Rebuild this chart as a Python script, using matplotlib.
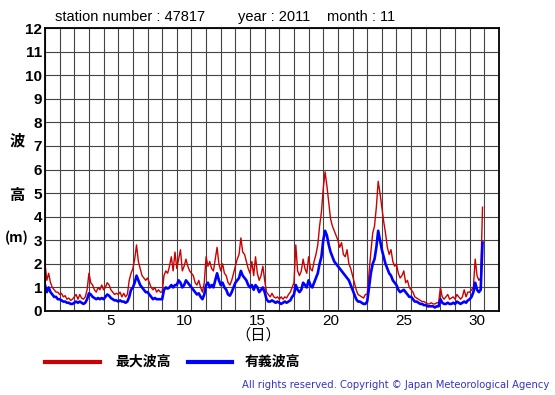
import numpy as np
import matplotlib.pyplot as plt

# 3-hourly readings, Nov 2011, station 47817 (8 values per day)
max_wave = [
    2.0, 1.3, 1.6, 1.2, 1.0, 0.9, 0.8, 0.8,
    0.7, 0.75, 0.6, 0.65, 0.5, 0.55, 0.45, 0.5,
    0.6, 0.7, 0.5, 0.7, 0.55, 0.5, 0.6, 0.9,
    1.6, 1.2, 1.1, 0.9, 0.8, 1.0, 0.9, 1.1,
    0.9, 1.0, 1.2, 1.1, 0.9, 0.8, 0.7, 0.75,
    0.7, 0.8, 0.6, 0.75, 0.6, 0.7, 1.3, 1.6,
    1.8, 2.2, 2.8, 2.1, 1.8, 1.5, 1.4, 1.3,
    1.4, 1.2, 1.0, 0.9, 1.0, 0.8, 0.9, 0.8,
    0.8, 1.5, 1.7, 1.6, 1.9, 2.3, 1.7, 2.5,
    1.8, 2.2, 2.6, 1.7, 1.9, 2.2, 1.9, 1.7,
    1.6, 1.5, 1.2, 1.1, 1.3, 1.0, 0.8, 1.2,
    2.3, 1.9, 2.1, 1.8, 1.7, 2.2, 2.7, 2.0,
    1.7, 2.0, 1.6, 1.5, 1.2, 1.1, 1.3, 1.6,
    1.9, 2.2, 2.4, 3.1, 2.5, 2.4, 2.1, 1.8,
    1.6, 2.1, 1.5, 2.3, 1.6, 1.3, 1.5, 1.9,
    1.3, 0.8, 0.7, 0.6, 0.75, 0.6, 0.55, 0.6,
    0.5, 0.6, 0.5, 0.6, 0.55, 0.7, 0.8, 1.0,
    1.2, 2.8, 1.7, 1.5, 1.7, 2.2, 1.8, 1.6,
    2.3, 1.8, 1.7, 2.1, 2.4, 2.8, 3.6, 4.2,
    5.2, 5.9, 5.3, 4.6, 3.9, 3.6, 3.4, 3.2,
    3.0, 2.7, 2.9, 2.4, 2.3, 2.6, 2.0, 1.8,
    1.5, 1.2, 0.9, 0.7, 0.65, 0.6, 0.55, 0.7,
    0.7, 1.6, 2.5, 3.3, 3.6, 4.4, 5.5, 5.0,
    4.4, 3.8, 3.3, 2.7, 2.4, 2.6, 2.1, 1.9,
    2.0, 1.6, 1.4, 1.5, 1.7, 1.2, 1.3, 1.0,
    0.9, 0.8, 0.6, 0.55, 0.5, 0.45, 0.4, 0.4,
    0.35, 0.3, 0.3, 0.35, 0.3, 0.3, 0.35, 0.35,
    1.0, 0.6, 0.5, 0.6, 0.7, 0.5, 0.55, 0.6,
    0.5, 0.7, 0.6, 0.5, 0.6, 0.9, 0.6, 0.8,
    0.8, 0.9, 1.0, 2.2, 1.5, 1.3, 1.4, 4.4,
]
sig_wave = [
    1.1, 0.8, 1.0, 0.8, 0.7, 0.6, 0.6, 0.5,
    0.5, 0.45, 0.4, 0.4, 0.35, 0.35, 0.3, 0.3,
    0.35, 0.4, 0.35, 0.4, 0.35, 0.3, 0.35, 0.5,
    0.75, 0.7, 0.6, 0.55, 0.5, 0.55, 0.5, 0.55,
    0.5, 0.6, 0.7, 0.65, 0.55, 0.5, 0.45, 0.45,
    0.4, 0.45, 0.4, 0.4, 0.35, 0.4, 0.6, 0.9,
    1.0, 1.2, 1.5, 1.3, 1.1, 1.0, 0.9, 0.8,
    0.8, 0.7, 0.6, 0.5, 0.55, 0.5, 0.5, 0.5,
    0.5, 0.9, 1.0, 0.95, 1.0, 1.1, 1.0, 1.1,
    1.1, 1.3, 1.2, 1.0, 1.1, 1.3, 1.2, 1.1,
    1.0, 0.9, 0.8, 0.7, 0.75, 0.6, 0.5, 0.7,
    1.1, 1.2, 1.0, 1.1, 1.0, 1.3, 1.6, 1.3,
    1.1, 1.2, 1.0, 0.9, 0.7, 0.65, 0.8, 1.0,
    1.2, 1.3, 1.4, 1.7, 1.5, 1.4, 1.3, 1.1,
    1.0, 1.1, 0.9, 1.1, 1.0, 0.8, 0.9, 1.0,
    0.8, 0.5, 0.4, 0.4, 0.45, 0.4, 0.35, 0.4,
    0.35, 0.3, 0.35, 0.4, 0.35, 0.4, 0.45, 0.6,
    0.7, 1.1, 0.9, 0.8, 0.9, 1.2, 1.1, 1.0,
    1.3, 1.1, 1.0, 1.2, 1.4, 1.6, 2.0, 2.3,
    3.0, 3.4, 3.2, 2.8, 2.5, 2.3, 2.1, 2.0,
    1.9, 1.8, 1.7, 1.6, 1.5, 1.4, 1.3, 1.1,
    0.9, 0.7, 0.5, 0.4, 0.4, 0.35, 0.3, 0.3,
    0.4, 1.0, 1.6, 2.0, 2.2, 2.7, 3.4, 3.0,
    2.6, 2.3, 2.0, 1.8, 1.6, 1.5, 1.3, 1.2,
    1.1, 0.9, 0.8, 0.85, 0.9, 0.8, 0.7, 0.6,
    0.6, 0.5, 0.4, 0.4, 0.35, 0.3, 0.3, 0.25,
    0.25, 0.2, 0.2, 0.2, 0.2, 0.15, 0.2, 0.2,
    0.5, 0.35, 0.3, 0.3, 0.35, 0.3, 0.3, 0.35,
    0.3, 0.4, 0.35, 0.3, 0.35, 0.4, 0.35, 0.45,
    0.5, 0.6, 0.8, 1.2, 0.9, 0.8, 0.9, 2.9,
]
day_labels = [5, 10, 15, 20, 25, 30]

station = "47817"
year = "2011"
month = "11"

t = 1 + np.arange(len(max_wave)) / 8.0

cjk = ['Noto Sans CJK JP', 'DejaVu Sans']
plt.rcParams['font.family'] = ['Liberation Sans', 'DejaVu Sans']

fig = plt.figure(figsize=(5.55, 3.95), dpi=100)
ax = fig.add_axes([45 / 555, 1 - 311 / 395, 454 / 555, 283 / 395])

ax.plot(t, max_wave, color='#cc0000', linewidth=1.0)
ax.plot(t, sig_wave, color='#0000ff', linewidth=1.9)

ax.set_xlim(1, 32)
ax.set_ylim(0, 12)
ax.set_xticks(np.arange(1, 33), minor=True)
ax.set_xticks([d + 0.5 for d in day_labels])
ax.set_xticklabels([str(d) for d in day_labels], fontsize=11)
ax.set_yticks(np.arange(0, 13))
ax.set_yticklabels([str(v) for v in range(13)], fontsize=11, fontweight='bold')
ax.tick_params(axis='both', which='both', length=0, pad=2)
ax.grid(True, which='minor', axis='x', color='#444444', linewidth=0.8)
ax.grid(True, which='major', axis='y', color='#444444', linewidth=0.8)
for s in ax.spines.values():
    s.set_linewidth(1.3)

# header
fig.text(55 / 555, 1 - 17 / 395, f"station number : {station}", fontsize=10.5, va='center')
fig.text(238 / 555, 1 - 17 / 395, f"year : {year}", fontsize=10.5, va='center')
fig.text(327 / 555, 1 - 17 / 395, f"month : {month}", fontsize=10.5, va='center')

# y label
fig.text(17 / 555, 1 - 140 / 395, "波", family=cjk, fontsize=11, fontweight='bold', ha='center', va='center')
fig.text(17 / 555, 1 - 195 / 395, "高", family=cjk, fontsize=11, fontweight='bold', ha='center', va='center')
fig.text(17 / 555, 1 - 238 / 395, "(m)", family=cjk, fontsize=10, fontweight='bold', ha='center', va='center')

# x label
fig.text(258 / 555, 1 - 335 / 395, "（日）", family=cjk, fontsize=11, ha='center', va='center')

# legend
fig.add_artist(plt.Line2D([45 / 555, 100 / 555], [1 - 362 / 395] * 2, color='#cc0000', linewidth=3))
fig.text(115 / 555, 1 - 362 / 395, "最大波高", family=cjk, fontsize=10, fontweight='bold', va='center')
fig.add_artist(plt.Line2D([188 / 555, 232 / 555], [1 - 362 / 395] * 2, color='#0000ff', linewidth=3))
fig.text(245 / 555, 1 - 362 / 395, "有義波高", family=cjk, fontsize=10, fontweight='bold', va='center')

fig.text(549 / 555, 1 - 385 / 395, "All rights reserved. Copyright © Japan Meteorological Agency",
         family=['DejaVu Sans'], fontsize=7.2, color='#3333cc', ha='right', va='center')

fig.savefig('out.png', dpi=100)
